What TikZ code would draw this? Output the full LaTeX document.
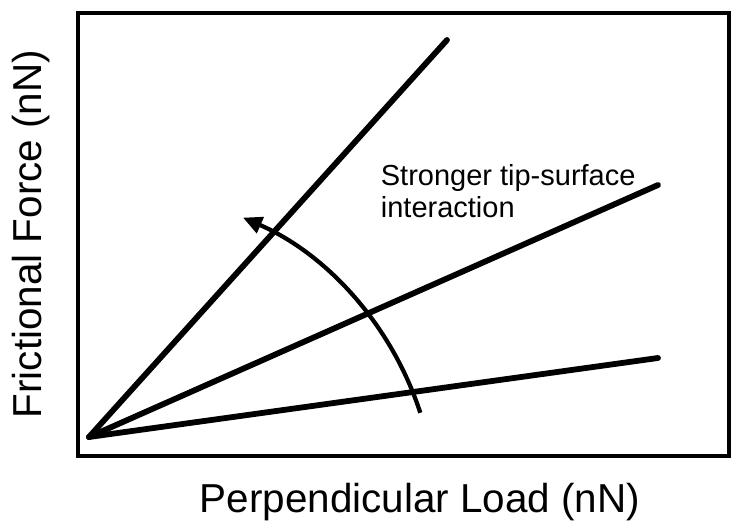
\documentclass[tikz,border=0pt]{standalone}
\usepackage{fontspec}
\setsansfont{Liberation Sans}
\usetikzlibrary{arrows.meta}

\begin{document}
\begin{tikzpicture}[-,>={Triangle[length=0.38cm,width=0.34cm]},line width=3.3pt,
    main node/.style={inner sep=0pt},
    axis label/.style={font=\sffamily\fontsize{23}{27}\selectfont,inner sep=0pt},
    note label/.style={font=\sffamily\fontsize{16.5}{18.2}\selectfont,inner sep=0pt,align=left}]

            \useasboundingbox (0,0) rectangle (14.74,10.56);

            \node[main node] (b1) at (1.56,1.44) {};
            \node[main node] (b2) at (14.58,10.30) {};
            \draw[line width=2.4pt] (b1.center) rectangle (b2.center);

            \node[main node] (0) at (1.78,1.82) {};
            \node[main node] (1) at (8.94,9.76) {};
            \node[main node] (2) at (13.16,6.86) {};
            \node[main node] (3) at (13.16,3.40) {};

            \path[line cap=round]
                (0.center) edge (1.center)
                (0.center) edge (2.center)
                (0.center) edge (3.center)
            ;

            % arc centred below the origin
            \node[main node] (c) at (2.30,0.32) {};
            \draw[->,line width=2.4pt] ([shift={(18:6.42)}]c.center) arc[start angle=18,end angle=66.5,radius=6.42];

            \node[note label,anchor=north west] (4) at (7.56,7.33) {Stronger tip-surface\\interaction};

            \node[axis label,anchor=base] (5) at (8.40,0.30) {Perpendicular Load (nN)};
            \node[axis label,anchor=base,rotate=90] (6) at (0.84,5.88) {Frictional Force (nN)};
        \end{tikzpicture}
\end{document}
